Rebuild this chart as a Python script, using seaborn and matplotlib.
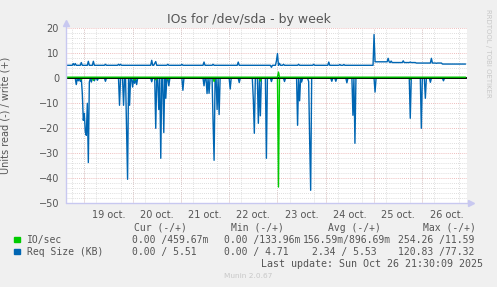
import numpy as np
import pandas as pd
import matplotlib
matplotlib.use("Agg")
import matplotlib.pyplot as plt
from matplotlib.patches import Rectangle
import seaborn as sns

# ---------------- data (hours relative to 19 Oct 00:00, 30-min steps) ----------------
hours = np.arange(-9.0, 190.0, 0.5)

day_labels = ["19 oct.", "20 oct.", "21 oct.", "22 oct.", "23 oct.", "24 oct.", "25 oct.", "26 oct."]

# Req Size (KB) write baseline levels: (from hour, level)
req_write_levels = [(-9.0, 5.2), (144.5, 6.6), (152.0, 6.3), (165.0, 6.1), (178.0, 5.7)]
# Req Size (KB) write excursions (hour, value)
req_write_events = [(-5.5, 5.9), (-4.5, 5.9), (-1.5, 6.3), (2.0, 6.8), (4.5, 6.8), (10.5, 5.6),
                    (17.0, 5.6), (18.0, 5.6), (33.5, 7.2), (35.0, 6.0), (35.5, 6.7), (41.5, 5.6),
                    (48.5, 5.6), (59.5, 6.5), (64.0, 5.6), (76.5, 6.5), (93.0, 4.4), (95.5, 7.0),
                    (96.0, 9.9), (97.0, 6.0), (99.0, 5.6), (106.5, 5.6), (114.0, 5.6), (121.5, 6.5),
                    (127.0, 5.5), (129.0, 5.5), (144.0, 17.5), (151.0, 8.0), (152.5, 6.9),
                    (158.5, 7.0), (162.0, 6.5), (172.5, 8.0), (175.0, 6.0)]
# Req Size (KB) read (drawn negative), baseline 0
req_read_events = [(-4.0, -2.5), (-3.0, -1.0), (-2.0, -1.2), (-1.0, -6.0), (-0.5, -16.8), (0.0, -14.0),
                   (0.5, -21.5), (1.0, -22.8), (1.5, -10.0), (2.0, -33.7), (2.5, -1.5), (3.5, -1.5),
                   (5.0, -1.0), (6.5, -0.8), (10.5, -1.2), (17.5, -10.8), (19.5, -10.8), (21.0, -20.0),
                   (21.5, -40.4), (22.5, -10.8), (24.0, -3.5), (25.0, -2.0), (26.0, -2.5),
                   (33.5, -1.4), (35.5, -20.0), (37.0, -12.5), (38.0, -32.0), (39.5, -21.7),
                   (40.5, -8.0), (42.0, -3.0), (49.0, -4.8), (59.5, -3.0), (61.0, -6.1), (62.0, -6.0),
                   (64.0, -17.5), (64.5, -32.8), (66.0, -12.5), (67.0, -14.5), (72.5, -4.3),
                   (77.0, -1.7), (84.0, -8.5), (84.5, -22.0), (86.5, -18.0), (87.5, -15.0),
                   (90.5, -32.0), (93.0, -1.3), (99.5, -1.3), (106.0, -18.8), (107.0, -9.0),
                   (108.0, -1.5), (111.5, -1.3), (112.0, -25.0), (112.5, -44.8), (123.0, -1.2),
                   (125.0, -1.2), (130.5, -1.8), (133.5, -14.8), (134.5, -26.0), (144.5, -5.5),
                   (162.0, -16.0), (167.5, -20.0), (169.5, -8.0), (172.0, -1.6), (178.5, -1.0)]
# IO/sec write baseline and events
io_write_level = 0.45
io_write_events = [(96.5, 2.5)]
# IO/sec read (drawn negative), baseline 0
io_read_events = [(-1.5, -0.5), (4.5, -0.8), (25.0, -0.7), (35.5, -0.6), (41.5, -0.5),
                  (64.5, -1.3), (87.5, -1.1), (96.5, -43.5), (162.0, -0.5)]

legend_rows = [
    ("IO/sec", "#00CC00"),
    ("Req Size (KB)", "#0066B3"),
]
stat_headers = ["Cur (-/+)", "Min (-/+)", "Avg (-/+)", "Max (-/+)"]
io_stats = ["0.00 /459.67m", "0.00 /133.96m", "156.59m/896.69m", "254.26 /11.59"]
req_stats = ["0.00 / 5.51", "0.00 / 4.71", "2.34 / 5.53", "120.83 /77.32"]


def idx(h):
    return int(round((h - hours[0]) / 0.5))


req_write = np.zeros_like(hours)
for start, lvl in req_write_levels:
    req_write[hours >= start] = lvl
for h, v in req_write_events:
    req_write[idx(h)] = v
req_read = np.zeros_like(hours)
for h, v in req_read_events:
    req_read[idx(h)] = v
io_write = np.full_like(hours, io_write_level)
for h, v in io_write_events:
    io_write[idx(h)] = v
io_read = np.zeros_like(hours)
for h, v in io_read_events:
    io_read[idx(h)] = v

df = pd.DataFrame({"h": hours, "req_w": req_write, "req_r": req_read,
                   "io_w": io_write, "io_r": io_read})

# ---------------- figure ----------------
sns.set_style("white")
plt.rcParams["font.family"] = ["DejaVu Sans"]
W, H = 497, 287
fig = plt.figure(figsize=(W / 100, H / 100), dpi=100, facecolor="#F0F0F0")
ax = fig.add_axes([66 / W, 1 - 203.3 / H, 401 / W, 175 / H])
ax.set_facecolor("white")

txt = "#555555"
red = "#E8A8A8"
grey = "#D4D4D4"
lav = "#C8C8F0"
dot = (0, (1, 1.5))

ax.set_xlim(-9.1, 190.2)
ax.set_ylim(-50, 20)

# grids
ax.set_yticks(np.arange(-50, 21, 10))
ax.set_yticks(np.arange(-50, 21, 2), minor=True)
ax.set_xticks(np.arange(12, 190, 24), day_labels)
ax.set_xticks(np.arange(-6, 190, 6), minor=True)
ax.grid(which="minor", color=grey, linestyle=dot, linewidth=0.6, zorder=0)
ax.grid(which="major", axis="y", color=red, linestyle=dot, linewidth=0.6, zorder=0.5)
for d in range(0, 8):
    ax.axvline(d * 24, color=red, linestyle=dot, linewidth=0.6, zorder=0.5)
ax.set_axisbelow(True)

# data lines
c_io, c_req = legend_rows[0][1], legend_rows[1][1]
sns.lineplot(data=df, x="h", y="req_w", color=c_req, linewidth=1.0, ax=ax, zorder=2)
sns.lineplot(data=df, x="h", y="req_r", color=c_req, linewidth=1.0, ax=ax, zorder=2)
sns.lineplot(data=df, x="h", y="io_r", color=c_io, linewidth=1.0, ax=ax, zorder=3)
ax.axhline(0, color="black", linewidth=1.3, zorder=3.5)
sns.lineplot(data=df, x="h", y="io_w", color=c_io, linewidth=1.0, ax=ax, zorder=4)

# spines / axis arrows
for s in ax.spines.values():
    s.set_visible(False)
ax.plot([0, 0], [0, 1.03], transform=ax.transAxes, color=lav, lw=1, clip_on=False, zorder=5)
ax.plot([0, 1.01], [0, 0], transform=ax.transAxes, color=lav, lw=1, clip_on=False, zorder=5)
ax.plot([0], [1.03], marker="^", ms=4, color=lav, transform=ax.transAxes, clip_on=False)
ax.plot([1.01], [0], marker=">", ms=4, color=lav, transform=ax.transAxes, clip_on=False)

ax.tick_params(axis="both", which="both", length=0, labelsize=7, labelcolor=txt)
ax.tick_params(axis="y", pad=5)
ax.tick_params(axis="x", pad=5)
ax.set_xlabel("")
ax.set_ylabel("Units read (-) / write (+)", fontsize=7, color=txt, labelpad=6)
ax.yaxis.set_label_coords(-56 / 401, 0.5)

fig.text(248.5 / W, 1 - 19 / H, "IOs for /dev/sda - by week", ha="center", va="center",
         fontsize=9, color=txt)
fig.text(488 / W, 1 - 53 / H, "RRDTOOL / TOBI OETIKER", rotation=270, ha="center", va="center",
         fontsize=5, color="#C8C8C8")


# ---------------- legend / stats (monospace) ----------------
def ftext(x, y, s, **kw):
    kw.setdefault("family", "DejaVu Sans Mono")
    kw.setdefault("fontsize", 7.0)
    kw.setdefault("color", txt)
    fig.text(x / W, 1 - y / H, s, ha="left", va="center", **kw)


for s, x in zip(stat_headers, [134, 231, 327.7, 422.7]):
    ftext(x, 228, s)

for (label, col), y in zip(legend_rows, [239.5, 251.7]):
    fig.patches.append(Rectangle((14 / W, 1 - (y + 2.5) / H), 5.5 / W, 5.5 / H,
                                 transform=fig.transFigure, color=col, figure=fig))
    ftext(26.7, y, label)

for s, x in zip(io_stats, [132, 224.3, 303, 398.3]):
    ftext(x, 239.5, s)
for s, x in zip(req_stats, [132, 224.3, 311.7, 398.3]):
    ftext(x, 251.7, s)

ftext(261, 263.7, "Last update: Sun Oct 26 21:30:09 2025", fontsize=7.2)
fig.text(248 / W, 1 - 276 / H, "Munin 2.0.67", ha="center", va="center", fontsize=5.3,
         color="#C8C8C8")

fig.savefig("out.png", dpi=100, facecolor=fig.get_facecolor())
